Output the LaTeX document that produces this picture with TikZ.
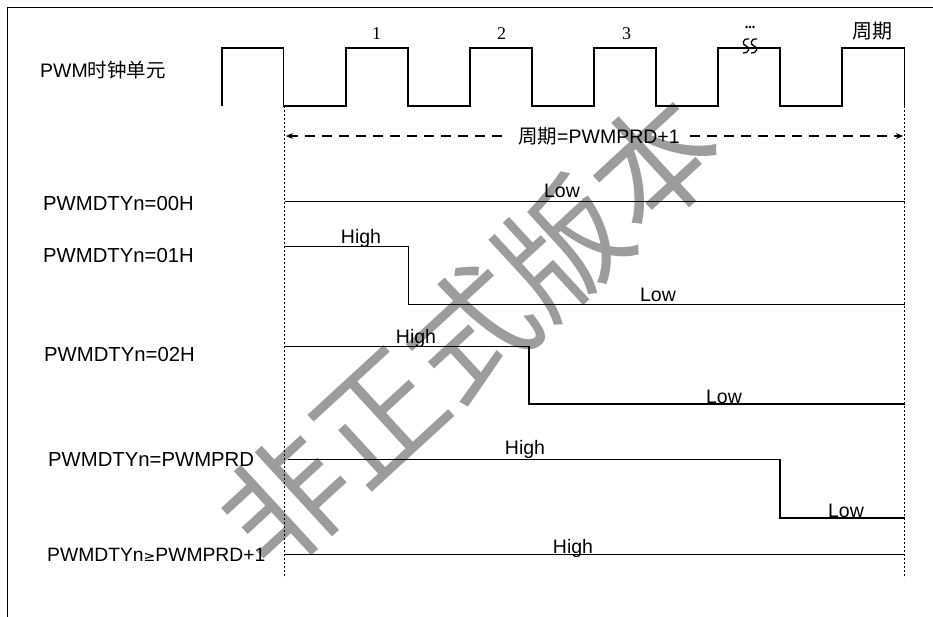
\documentclass[tikz,border=0pt]{standalone}
\usepackage{fontspec}
\setmainfont{Liberation Sans}
\newfontfamily\cjk{Noto Sans CJK SC}
\newfontfamily\tnr{Liberation Serif}
\newfontfamily\djv{DejaVu Sans}
\usetikzlibrary{arrows.meta}
\definecolor{wm}{HTML}{9C9C9C}
\begin{document}
\begin{tikzpicture}[x=1pt,y=-1pt,
  lbl/.style={font=\fontsize{20.3}{21}\selectfont, inner sep=0pt, anchor=base west},
  hl/.style={font=\fontsize{19.5}{20}\selectfont, inner sep=0pt, anchor=base},
  num/.style={font=\tnr\fontsize{18}{18}\selectfont, inner sep=0pt, anchor=base},
  sig/.style={line width=1.6pt},
  clk/.style={line width=1.9pt, line join=miter},
  guide/.style={line width=1.6pt, dash pattern=on 2pt off 2pt},
  dasharrow/.style={line width=1.2pt, dash pattern=on 10pt off 7pt},
  frame/.style={line width=1pt}]
\useasboundingbox (0,0) rectangle (933,616);
% watermark
\node[text=wm, inner sep=0pt, rotate=42.6, font=\cjk\fontsize{125}{125}\selectfont] (wmk) at (470,332) {非正式版本};
% frame
\draw[frame] (7,620) -- (7,7) -- (940,7);
% clock
\node[font=\fontsize{19.5}{20}\selectfont, inner sep=0pt, anchor=base west] (clkl) at (40,77) {PWM{\cjk 时钟单元}};
\draw[clk] (221.7,106) -- (221.7,48) -- (283.5,48) -- (283.5,106) -- (345.7,106) -- (345.7,48) -- (408.3,48) -- (408.3,106) -- (470,106) -- (470,48) -- (531.7,48) -- (531.7,106) -- (594,106) -- (594,48) -- (655.7,48) -- (655.7,106) -- (717.7,106) -- (717.7,48) -- (780,48) -- (780,106) -- (842.3,106) -- (842.3,48) -- (904.5,48) -- (904.5,106);
\node[num] (n1) at (376.7,39) {1};
\node[num] (n2) at (501.7,39) {2};
\node[num] (n3) at (626.7,39) {3};
\node[inner sep=0pt, font=\tnr\fontsize{20}{20}\selectfont] (np) at (872,31.5) {{\cjk 周期}};
% break mark
\fill (746.5,27) circle (1.4) (750,27) circle (1.4) (753.5,27) circle (1.4);
\draw[line width=1.3pt] (749,39) .. controls (742,38) and (742,45) .. (746,46) .. controls (750,47) and (750,53) .. (743,53);
\draw[line width=1.3pt] (757,39) .. controls (750,38) and (750,45) .. (754,46) .. controls (758,47) and (758,53) .. (751,53);
% guides
\coordinate (gLt) at (284.5,106);
\coordinate (gLb) at (284.5,578);
\coordinate (gRt) at (904.5,106);
\coordinate (gRb) at (904.5,578);
\draw[guide] (gLt) -- (gLb);
\draw[guide] (gRt) -- (gRb);
% period arrow
\node[font=\fontsize{19.5}{20}\selectfont, inner sep=0pt, anchor=base west] (per) at (518,143) {{\cjk 周期}=PWMPRD+1};
\coordinate (aL) at (286,136);
\coordinate (aR) at (903,136);
\draw[dasharrow, -{Stealth[length=7pt,width=6pt]}] (per.west |- aL) ++(-16,0) -- (aL);
\draw[dasharrow, -{Stealth[length=7pt,width=6pt]}] (per.east |- aR) ++(10,0) -- (aR);
% rows
\node[lbl] (r0) at (43,210) {PWMDTYn=00H};
\draw[sig] (285,201.5) -- (904.5,201.5);
\node[hl] (r0l) at (562,197) {Low};

\node[lbl] (r1) at (43,262) {PWMDTYn=01H};
\draw[sig] (285,246.5) -- (408.5,246.5) -- (408.5,304.5) -- (904.5,304.5);
\node[hl] (r1h) at (361,243) {High};
\node[hl] (r1l) at (658,301) {Low};

\node[lbl] (r2) at (44,361) {PWMDTYn=02H};
\draw[sig] (285,346.5) -- (529,346.5) -- (529,404) -- (904.5,404);
\node[hl] (r2h) at (416,343) {High};
\node[hl] (r2l) at (724,403) {Low};

\node[lbl] (r3) at (48,466) {PWMDTYn=PWMPRD};
\draw[sig] (288,459.3) -- (780,459.3) -- (780,518) -- (904.5,518);
\node[hl] (r3h) at (525,454) {High};
\node[hl] (r3l) at (846,517) {Low};

\node[lbl, font=\fontsize{19.3}{20}\selectfont] (r4) at (47,561) {PWMDTYn{\djv\fontsize{14}{20}\selectfont ≥}PWMPRD+1};
\draw[sig] (285,554.3) -- (904.5,554.3);
\node[hl] (r4h) at (573,553) {High};
\end{tikzpicture}
\end{document}
